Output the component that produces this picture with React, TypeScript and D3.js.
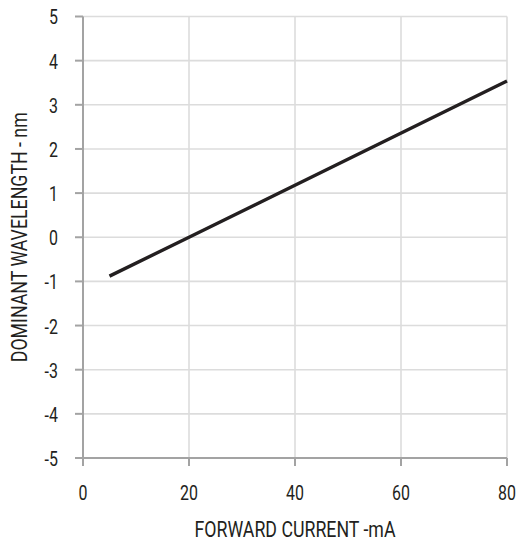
import * as d3 from "d3";

// forward current (mA) vs dominant wavelength shift (nm)
const forwardCurrent = [5, 20, 80];
const wavelengthShift = [-0.88, 0, 3.54];

const xTicks = [0, 20, 40, 60, 80];
const yTicks = [-5, -4, -3, -2, -1, 0, 1, 2, 3, 4, 5];

const xTitle = "FORWARD CURRENT -mA";
const yTitle = "DOMINANT WAVELENGTH - nm";

const width = 519;
const height = 548;
const marginTop = 16.5;
const marginRight = 12;
const marginBottom = 90;
const marginLeft = 83;

// no condensed face installed, so Roboto gets squeezed horizontally
const font = "Roboto, 'DejaVu Sans', sans-serif";
const squeeze = 0.76;

const App = () => {
  const x = d3
    .scaleLinear()
    .domain([0, 80])
    .range([marginLeft, width - marginRight]);

  const y = d3
    .scaleLinear()
    .domain([-5, 5])
    .range([height - marginBottom, marginTop]);

  const points = forwardCurrent.map((c, i) => [c, wavelengthShift[i]] as [number, number]);
  const line = d3
    .line<[number, number]>()
    .x((d) => x(d[0]))
    .y((d) => y(d[1]));

  const axisColor = "#a3a3a3";
  const gridColor = "#dcdcdc";
  const ink = "#231f20";

  return (
    <div style={{ position: "absolute", left: 0, top: 0 }}>
      <svg width={width} height={height} viewBox={`0 0 ${width} ${height}`} style={{ display: "block", background: "#fff" }}>
        {/* grid */}
        <g stroke={gridColor} strokeWidth={1.6}>
          {yTicks
            .filter((t) => t !== -5)
            .map((t) => (
              <line key={`gy${t}`} x1={x(0)} x2={x(80)} y1={y(t)} y2={y(t)} />
            ))}
          {xTicks
            .filter((t) => t !== 0)
            .map((t) => (
              <line key={`gx${t}`} x1={x(t)} x2={x(t)} y1={y(-5)} y2={y(5)} />
            ))}
        </g>

        {/* axes */}
        <g stroke={axisColor} strokeWidth={2}>
          <line x1={x(0)} x2={x(0)} y1={y(5)} y2={y(-5)} />
          <line x1={x(0)} x2={x(80)} y1={y(-5)} y2={y(-5)} />
          {yTicks.map((t) => (
            <line key={`ty${t}`} x1={x(0) - 8} x2={x(0)} y1={y(t)} y2={y(t)} />
          ))}
          {xTicks.map((t) => (
            <line key={`tx${t}`} x1={x(t)} x2={x(t)} y1={y(-5)} y2={y(-5) + 8} />
          ))}
        </g>

        {/* tick labels */}
        <g fontFamily={font} fontSize={21} fill={ink}>
          {yTicks.map((t) => (
            <text
              key={`ly${t}`}
              transform={`translate(${x(0) - 25},${y(t)}) scale(${squeeze},1)`}
              dy="0.38em"
              textAnchor="end"
            >
              {t}
            </text>
          ))}
          {xTicks.map((t) => (
            <text
              key={`lx${t}`}
              transform={`translate(${x(t)},${y(-5) + 42}) scale(${squeeze},1)`}
              textAnchor="middle"
            >
              {t}
            </text>
          ))}
        </g>

        {/* titles */}
        <g fontFamily={font} fontSize={22} fill={ink}>
          <text
            x={(x(0) + x(80)) / 2}
            y={537}
            textAnchor="middle"
            textLength={201}
            lengthAdjust="spacingAndGlyphs"
          >
            {xTitle}
          </text>
          <text
            transform={`translate(27,${(y(5) + y(-5)) / 2}) rotate(-90)`}
            textAnchor="middle"
            textLength={250}
            lengthAdjust="spacingAndGlyphs"
          >
            {yTitle}
          </text>
        </g>

        {/* data line */}
        <path d={line(points) ?? ""} fill="none" stroke={ink} strokeWidth={3.4} />
      </svg>
    </div>
  );
};

export default App;
